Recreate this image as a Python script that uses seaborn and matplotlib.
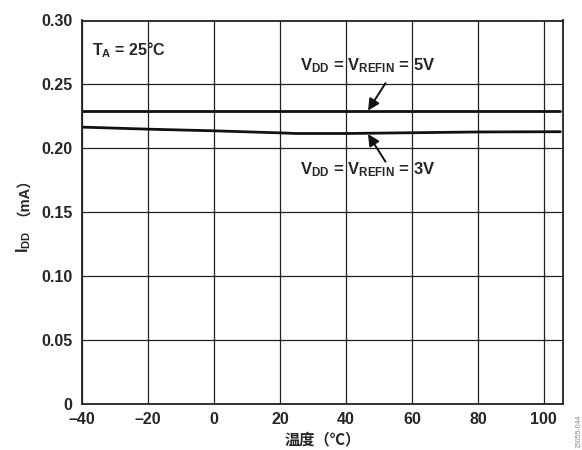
import pandas as pd
import seaborn as sns
import matplotlib.pyplot as plt

# data
temps = [-40, -20, 0, 20, 25, 40, 60, 80, 105]
idd_5v = [0.229, 0.229, 0.229, 0.229, 0.229, 0.229, 0.229, 0.229, 0.229]
idd_3v = [0.2166, 0.2150, 0.2137, 0.2121, 0.2116, 0.2116, 0.2122, 0.2128, 0.2130]

x_ticks = [-40, -20, 0, 20, 40, 60, 80, 100]
x_labels = ['–40', '–20', '0', '20', '40', '60', '80', '100']
y_ticks = [0, 0.05, 0.10, 0.15, 0.20, 0.25, 0.30]
y_labels = ['0', '0.05', '0.10', '0.15', '0.20', '0.25', '0.30']

sns.set_style('white')
plt.rcParams['font.family'] = ['Liberation Sans', 'Noto Sans CJK SC', 'DejaVu Sans']
plt.rcParams['mathtext.fontset'] = 'custom'
plt.rcParams['mathtext.rm'] = 'Liberation Sans:bold'
plt.rcParams['mathtext.it'] = 'Liberation Sans:bold'
plt.rcParams['mathtext.default'] = 'rm'

df = pd.DataFrame({'temp': temps * 2,
                   'idd': idd_5v + idd_3v,
                   'supply': ['5V'] * len(temps) + ['3V'] * len(temps)})

W, H = 582, 450
fig = plt.figure(figsize=(W / 100, H / 100), dpi=100)
ax = fig.add_axes([82 / W, 1 - 404 / H, (563 - 82) / W, (404 - 20.5) / H])

sns.lineplot(data=df, x='temp', y='idd', units='supply', estimator=None,
             color='#111111', linewidth=2.0, ax=ax, legend=False)

ax.set_xlim(-40, 105.8)
ax.set_ylim(0, 0.30)
ax.set_xticks(x_ticks)
ax.set_xticklabels(x_labels, fontweight='bold')
ax.set_yticks(y_ticks)
ax.set_yticklabels(y_labels, fontweight='bold')
ax.grid(True, color='#222222', linewidth=0.9)
ax.tick_params(length=0, labelsize=11.5)
ax.tick_params(axis='x', pad=6)
ax.tick_params(axis='y', pad=7)
for s in ax.spines.values():
    s.set_linewidth(1.3)
    s.set_color('#222222')

ax.set_xlabel('温度（℃）', fontsize=11, fontweight='bold', labelpad=4)
ax.set_ylabel('')

# y label: subscript part and CJK part drawn separately
fig.text(28 / W, 1 - 253 / H, r'I$_{\mathregular{DD}}$', rotation=90, fontsize=11.5,
         fontweight='bold', ha='left', va='baseline', rotation_mode='anchor')
fig.text(20 / W, 1 - 216 / H, '（mA）', rotation=90, fontsize=10.5,
         fontweight='bold', ha='left', va='baseline', rotation_mode='anchor')

ax.text(-37, 0.277, r'T$_{\mathregular{A}}$ = 25°C', fontsize=11.5, fontweight='bold',
        ha='left', va='center')

ax.text(46.5, 0.2645, r'V$_{\mathregular{DD}}$ = V$_{\mathregular{REFIN}}$ = 5V',
        fontsize=12, fontweight='bold', ha='center', va='center')
ax.annotate('', xy=(46.7, 0.2295), xytext=(52, 0.251),
            arrowprops=dict(arrowstyle='-|>', color='#111111', lw=1.4,
                            mutation_scale=17, shrinkA=0, shrinkB=0))

ax.text(46.5, 0.1835, r'V$_{\mathregular{DD}}$ = V$_{\mathregular{REFIN}}$ = 3V',
        fontsize=12, fontweight='bold', ha='center', va='center')
ax.annotate('', xy=(46.7, 0.2112), xytext=(52, 0.1895),
            arrowprops=dict(arrowstyle='-|>', color='#111111', lw=1.4,
                            mutation_scale=17, shrinkA=0, shrinkB=0))

fig.text(0.994, 0.005, '15055-044', rotation=90, fontsize=5, color='#888888',
         ha='center', va='bottom')

fig.savefig('out.png', dpi=100)
